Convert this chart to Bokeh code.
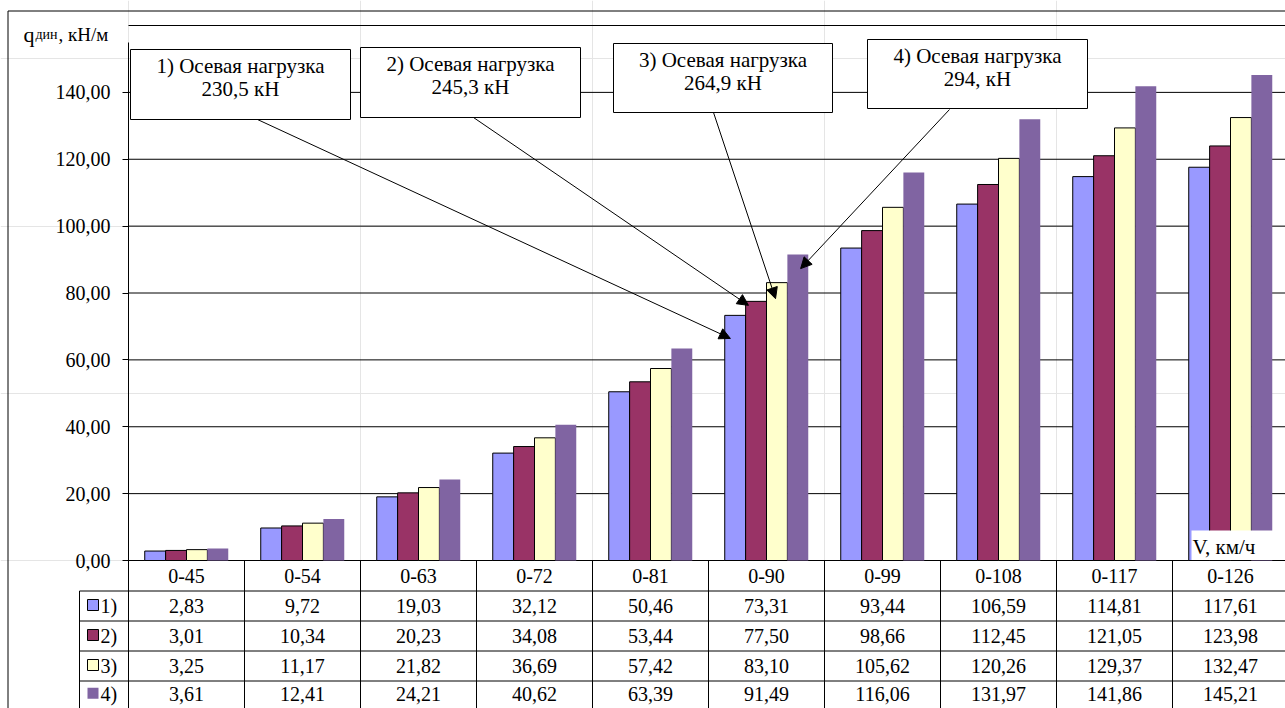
import numpy as np
from bokeh.plotting import figure
from bokeh.models import (Range1d, LinearAxis, FixedTicker, Arrow, NormalHead,
                          ColumnDataSource)
from bokeh.core.properties import value
from bokeh.embed import file_html
from bokeh.resources import INLINE

# ---------------- data ----------------
categories = ["0-45", "0-54", "0-63", "0-72", "0-81", "0-90", "0-99", "0-108", "0-117", "0-126"]
series_names = ["1)", "2)", "3)", "4)"]
s1 = [2.83, 9.72, 19.03, 32.12, 50.46, 73.31, 93.44, 106.59, 114.81, 117.61]
s2 = [3.01, 10.34, 20.23, 34.08, 53.44, 77.50, 98.66, 112.45, 121.05, 123.98]
s3 = [3.25, 11.17, 21.82, 36.69, 57.42, 83.10, 105.62, 120.26, 129.37, 132.47]
s4 = [3.61, 12.41, 24.21, 40.62, 63.39, 91.49, 116.06, 131.97, 141.86, 145.21]
series = [s1, s2, s3, s4]
y_ticks = [0, 20, 40, 60, 80, 100, 120, 140]
y_tick_labels = ["0,00", "20,00", "40,00", "60,00", "80,00", "100,00", "120,00", "140,00"]
grid_ticks = [0, 20, 40, 60, 80, 100, 120, 140, 160]
note_line1 = ["1) Осевая нагрузка", "2) Осевая нагрузка", "3) Осевая нагрузка", "4) Осевая нагрузка"]
note_line2 = ["230,5 кН", "245,3 кН", "264,9 кН", "294, кН"]
note_target = "0-90"
x_title = "V, км/ч"

# ---------------- styles / layout ----------------
colors = ["#9999FF", "#993366", "#FFFFCC", "#8064A2"]
outlines = ["black", "black", "black", None]
FONT = "Liberation Serif"
W, H = 1285, 708
PX0 = 128.0             # canvas px of the plot area's left edge
CAT_W = 116.0           # px per category
Y0 = 560.0              # canvas px of value 0
PPU = 535.0 / 160.0     # px per value unit

def X(px):
    return (px - PX0) / CAT_W

def Y(py):
    return (Y0 - py) / PPU

p = figure(width=W, height=H, output_backend="svg", toolbar_location=None,
           x_range=Range1d(X(0), X(W)), y_range=Range1d(Y(H), Y(0)),
           x_axis_location=None, y_axis_location=None,
           min_border=0, outline_line_color=None,
           background_fill_color="white", border_fill_color="white")

# outer border
p.segment(x0=[X(7.5), X(7.5)], y0=[Y(10.5), Y(10.5)], x1=[X(1300), X(7.5)], y1=[Y(10.5), Y(720)],
          line_color="black", line_width=1)

# horizontal grid lines (plot area only)
p.segment(x0=[0] * len(grid_ticks), y0=grid_ticks, x1=[X(1300)] * len(grid_ticks), y1=grid_ticks,
          line_color="black", line_width=1)

# y axis drawn at the plot area's left edge
yax = LinearAxis(ticker=FixedTicker(ticks=y_ticks), fixed_location=0,
                 major_label_overrides={t: l for t, l in zip(y_ticks, y_tick_labels)},
                 major_tick_out=6, major_tick_in=0, minor_tick_out=0, minor_tick_in=0,
                 major_label_standoff=12, axis_line_color="black",
                 major_tick_line_color="black",
                 major_label_text_font=FONT, major_label_text_font_size="20px",
                 major_label_text_color="black", bounds=(Y(712), Y(42)))
p.add_layout(yax, "left")

# y title  q_дин, кН/м
p.text(x=[X(23)], y=[Y(33.5)], text=["q"], text_font=value(FONT), text_font_size="22px",
       text_align="left", text_baseline="alphabetic", text_color="black")
p.text(x=[X(35)], y=[Y(33.5)], text=["дин"], text_font=value(FONT), text_font_size="14px",
       text_align="left", text_baseline="alphabetic", text_color="black")
p.text(x=[X(58)], y=[Y(33.5)], text=[", кН/м"], text_font=value(FONT), text_font_size="19px",
       text_align="left", text_baseline="alphabetic", text_color="black")

# bars
n = len(categories)
centers = np.arange(n) + 0.5
bw = 0.18
offs = (np.arange(4) - 1.5) * bw
for k, s in enumerate(series):
    src = ColumnDataSource(dict(x=centers + offs[k], top=s))
    p.vbar(x="x", top="top", bottom=0, width=bw, source=src,
           fill_color=colors[k], line_color=outlines[k], line_width=1)

# x title box
p.quad(left=[X(1191)], right=[X(1300)], top=[Y(530)], bottom=[Y(559.5)],
       fill_color="white", line_color=None)
p.text(x=[X(1192)], y=[Y(546)], text=[x_title], text_font=value(FONT),
       text_font_size="21px", text_align="left", text_baseline="middle", text_color="black")

# data table
row_edges = [560, 590.5, 620.5, 650.5, 680.5, 710]
bounds_x = np.arange(n + 1)
p.segment(x0=bounds_x, y0=[Y(560)] * (n + 1), x1=bounds_x, y1=[Y(720)] * (n + 1),
          line_color="black", line_width=1)
p.segment(x0=[X(79)] * 4, y0=[Y(v) for v in row_edges[1:5]], x1=[X(1300)] * 4,
          y1=[Y(v) for v in row_edges[1:5]], line_color="black", line_width=1)
p.segment(x0=[X(79)], y0=[Y(row_edges[1])], x1=[X(79)], y1=[Y(720)],
          line_color="black", line_width=1)
p.text(x=centers, y=[Y((row_edges[0] + row_edges[1]) / 2)] * n, text=categories,
       text_font=value(FONT), text_font_size="20px", text_align="center",
       text_baseline="middle", text_color="black")
for k, s in enumerate(series):
    mid = (row_edges[k + 1] + row_edges[k + 2]) / 2 - (1.5 if k == 3 else 0)
    labels = [f"{v:.2f}".replace(".", ",") for v in s]
    p.text(x=centers, y=[Y(mid)] * n, text=labels, text_font=value(FONT),
           text_font_size="20px", text_align="center", text_baseline="middle",
           text_color="black")
    # legend key of the table row
    p.quad(left=[X(87)], right=[X(98)], top=[Y(mid - 6.5)], bottom=[Y(mid + 4.5)],
           fill_color=colors[k], line_color=outlines[k], line_width=1)
    p.text(x=[X(100)], y=[Y(mid)], text=[series_names[k]], text_font=value(FONT),
           text_font_size="20px", text_align="left", text_baseline="middle",
           text_color="black")

# callout boxes
boxes = [(130, 49, 350, 119), (360, 47, 580, 117), (613, 43, 832, 112), (867, 39, 1087, 108)]
p.quad(left=[X(b[0]) for b in boxes], right=[X(b[2]) for b in boxes],
       top=[Y(b[1]) for b in boxes], bottom=[Y(b[3]) for b in boxes],
       fill_color="white", line_color="black", line_width=1)
bx = [X((b[0] + b[2]) / 2) for b in boxes]
p.text(x=bx, y=[Y(b[1] + 16) for b in boxes], text=note_line1, text_font=value(FONT),
       text_font_size="21px", text_align="center", text_baseline="middle", text_color="black")
p.text(x=bx, y=[Y(b[1] + 39) for b in boxes], text=note_line2, text_font=value(FONT),
       text_font_size="21px", text_align="center", text_baseline="middle", text_color="black")

# arrows from callouts to the bars of the target category
ti = categories.index(note_target)
starts = [(257, 119), (473, 117), (713, 112), (949, 109)]
tip_dx = [-4.8, -7.6, -1.4, 2.8]     # px from bar centre
tip_dy = [6.9, 1.2, 4.8, 4.2]        # value units below bar top
for k in range(4):
    tx = centers[ti] + offs[k] + tip_dx[k] / CAT_W
    ty = series[k][ti] - tip_dy[k]
    p.add_layout(Arrow(x_start=X(starts[k][0]), y_start=Y(starts[k][1]), x_end=tx, y_end=ty,
                       line_color="black", line_width=1,
                       end=NormalHead(size=11, fill_color="black", line_color="black")))

open("out.html", "w").write(file_html(p, INLINE))
